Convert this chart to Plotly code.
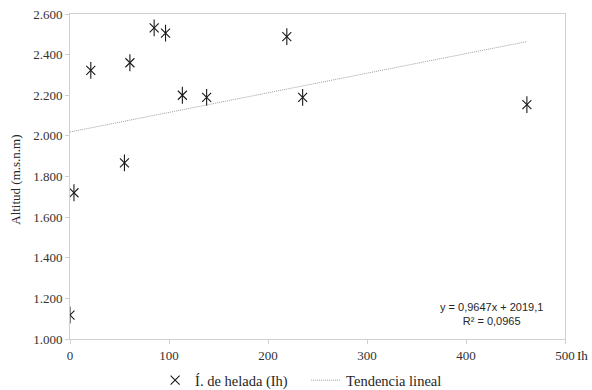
import plotly.graph_objects as go

# Data
ih_values = [0, 4, 21, 55, 60.5, 85, 96.5, 113.5, 138, 219, 235, 461.5]
altitudes = [1118, 1720, 2322, 1867, 2360, 2532, 2506, 2200, 2190, 2489, 2190, 2154]
trend_x = [0, 461.5]
trend_y = [2019.1, 2464.3]
x_ticks = [0, 100, 200, 300, 400, 500]
y_ticks = [1000, 1200, 1400, 1600, 1800, 2000, 2200, 2400, 2600]
series_name = "Í. de helada (Ih)"
trend_name = "Tendencia lineal"
equation_text = "y = 0,9647x + 2019,1<br>R² = 0,0965"

serif = "Liberation Serif"
ink = "#1a1a1a"

fig = go.Figure()
fig.add_trace(go.Scatter(
    x=ih_values, y=altitudes, mode="markers", name=series_name,
    marker=dict(symbol="x-thin-open", size=9, color=ink, line=dict(color=ink, width=1.1)),
    showlegend=True,
))
fig.add_trace(go.Scatter(
    x=ih_values, y=altitudes, mode="markers", name=series_name,
    marker=dict(symbol="line-ns-open", size=12, color=ink, line=dict(color=ink, width=1.1)),
    showlegend=False, hoverinfo="skip",
))
fig.add_trace(go.Scatter(
    x=trend_x, y=trend_y, mode="lines", name=trend_name,
    line=dict(color="#a0a0a0", width=1, dash="1px,1px"),
))

fig.update_layout(
    width=592, height=390,
    margin=dict(l=70, r=27, t=14, b=51, autoexpand=False),
    paper_bgcolor="white", plot_bgcolor="white",
    separators=",.",
    font=dict(family=serif, size=13, color="#333333"),
    showlegend=True,
    legend=dict(orientation="h", xref="container", yref="container",
                x=0.262, xanchor="left", y=0.025, yanchor="middle",
                font=dict(family=serif, size=14.5, color="#262626"),
                entrywidth=106, entrywidthmode="pixels", bgcolor="rgba(0,0,0,0)"),
    xaxis=dict(range=[0, 500], tickvals=x_ticks, tickformat=",.0f", automargin=False,
               showgrid=False, zeroline=False, showline=True, linecolor="#d0d0d0",
               linewidth=1, mirror=True, ticks="outside", ticklen=4, tickcolor="#d0d0d0",
               tickfont=dict(family=serif, size=13, color="#333333")),
    yaxis=dict(range=[1000, 2600], tickvals=y_ticks, tickformat=",.0f", automargin=False,
               showgrid=False, zeroline=False, showline=True, linecolor="#d0d0d0",
               linewidth=1, mirror=True, ticks="outside", ticklen=4, tickcolor="#d0d0d0",
               tickfont=dict(family=serif, size=13, color="#333333")),
    annotations=[
        dict(text="Altitud (m.s.n.m)", textangle=-90, xref="paper", yref="paper",
             x=0, y=0.49, xanchor="center", yanchor="middle", xshift=-54, showarrow=False,
             font=dict(family=serif, size=13, color="#262626")),
        dict(text="Ih", xref="x", yref="paper", x=500, y=0, xanchor="left", yanchor="top",
             xshift=10, yshift=-7, showarrow=False,
             font=dict(family=serif, size=13, color="#262626")),
        dict(text=equation_text, xref="x", yref="y", x=426, y=1125, xanchor="center",
             yanchor="middle", showarrow=False, align="center",
             font=dict(family="Liberation Sans", size=11, color="#262626")),
    ],
)

fig.write_html("out.html", config={"displayModeBar": False},
               post_script="document.body.style.margin='0';document.body.style.overflow='hidden';")
